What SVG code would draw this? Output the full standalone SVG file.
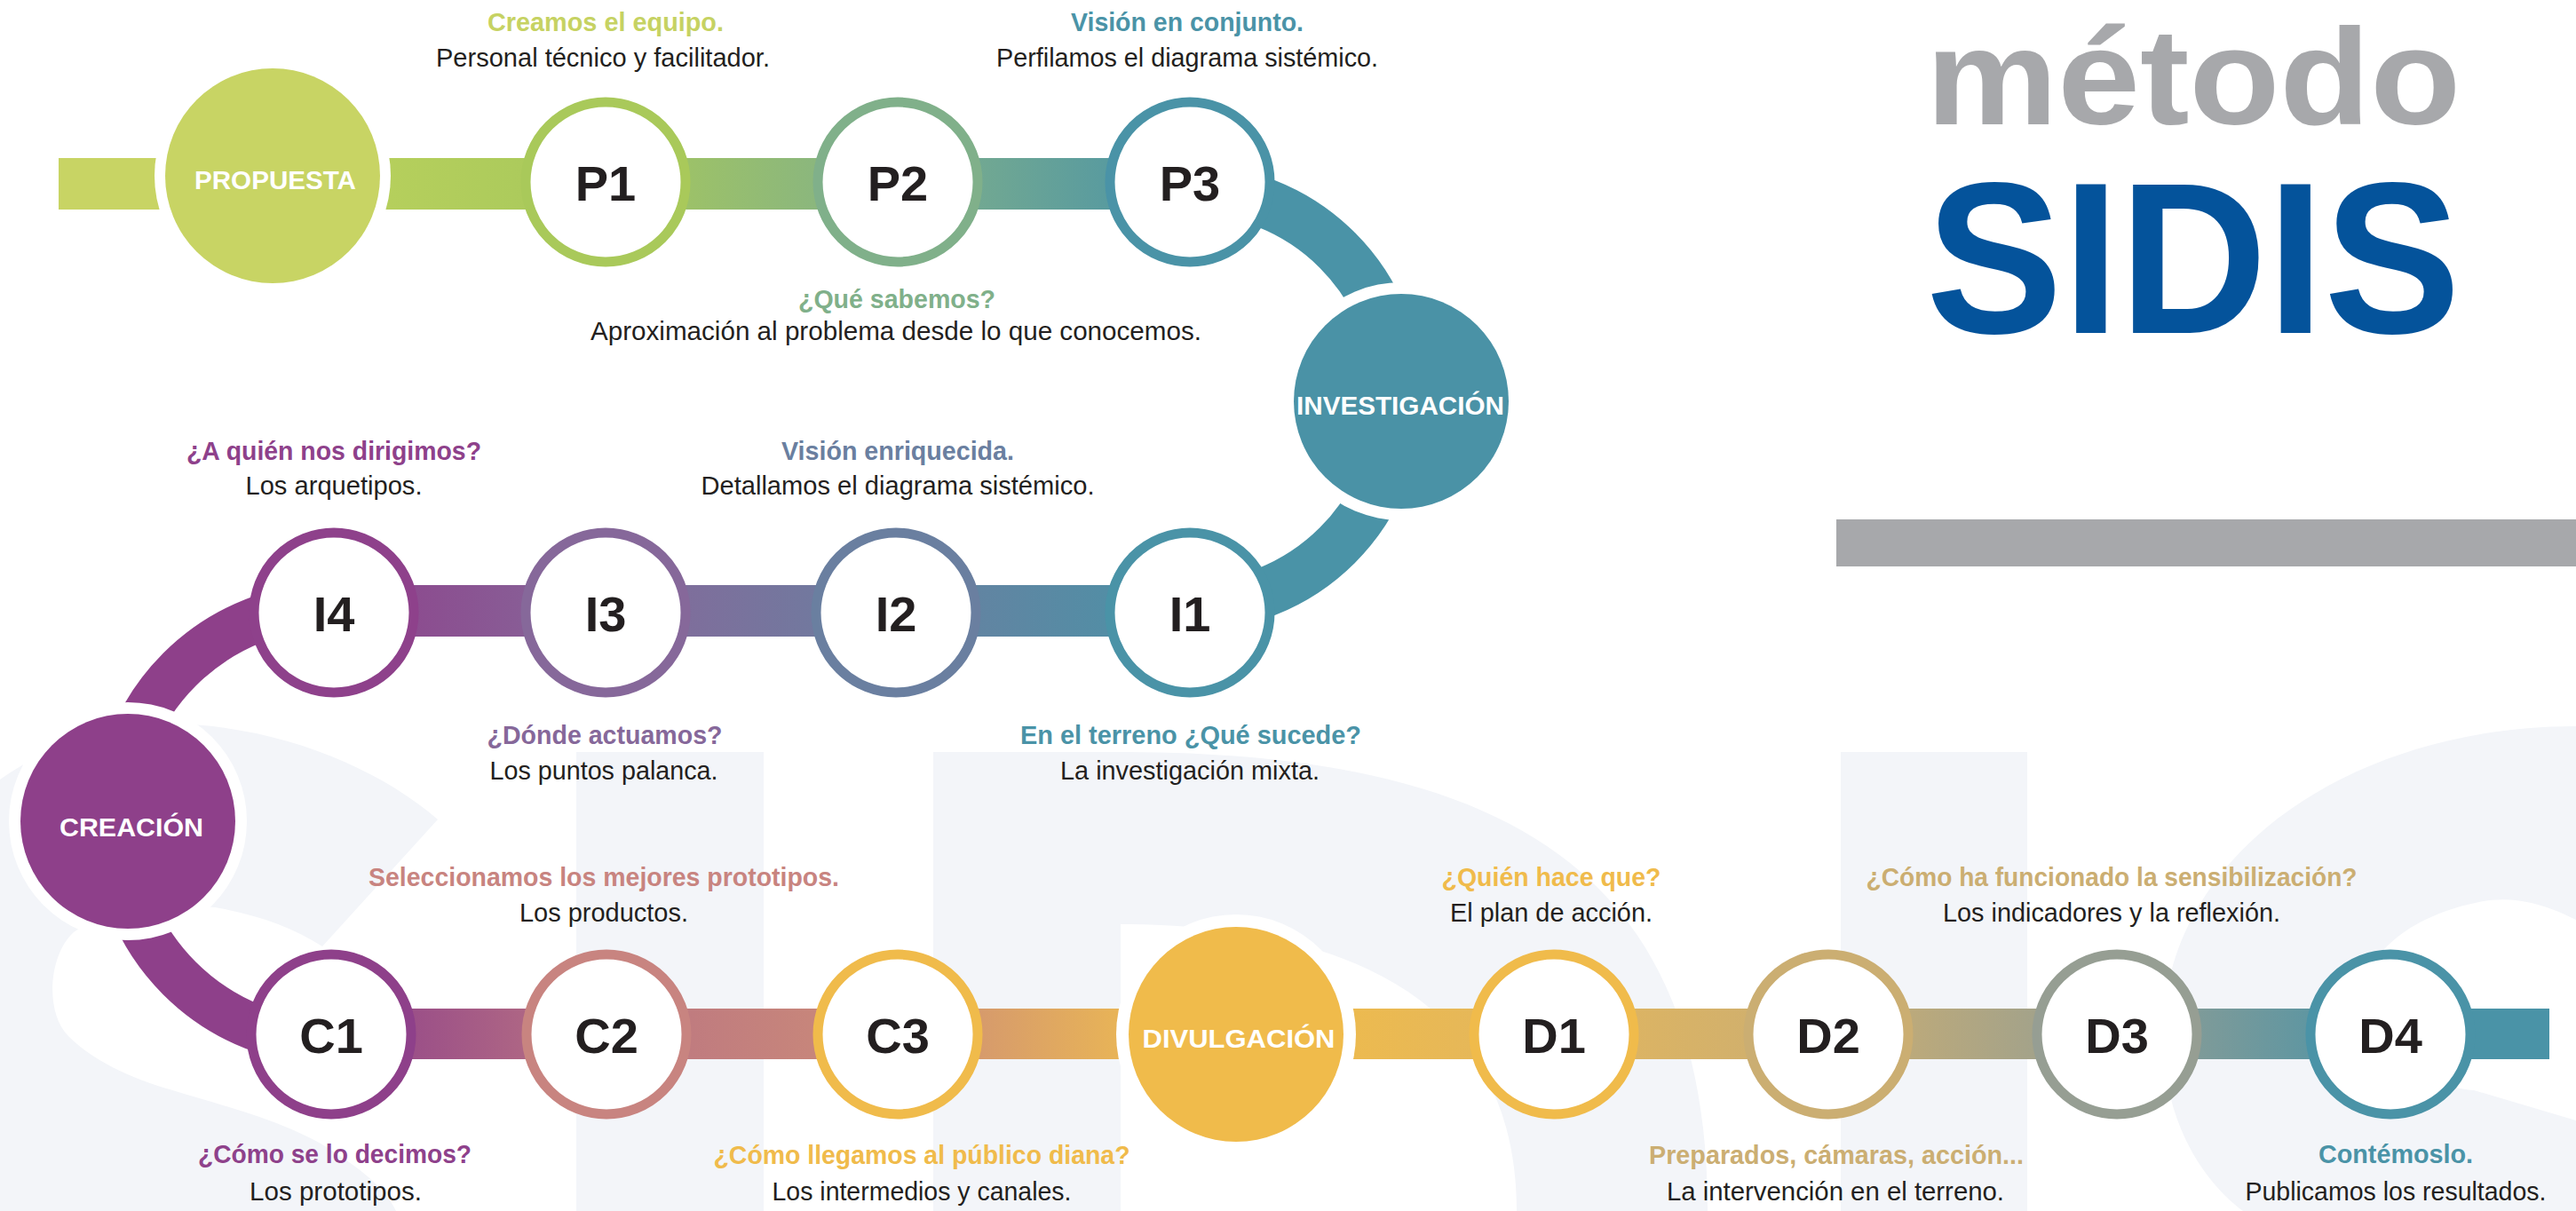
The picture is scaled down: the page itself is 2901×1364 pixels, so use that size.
<svg xmlns="http://www.w3.org/2000/svg" width="2901" height="1364" viewBox="0 0 2901 1364">
<defs>
<style>
.bg{fill:#f3f5f9}
.ring{fill:#fff;stroke-width:11}
.halo{fill:#fff}
.lbl{font-family:"Liberation Sans",Arial,sans-serif;font-weight:bold;font-size:56px;fill:#231f20;text-anchor:middle}
.big{font-family:"Liberation Sans",Arial,sans-serif;font-weight:bold;font-size:29px;fill:#fff;text-anchor:middle}
.ttl{font-family:"Liberation Sans",Arial,sans-serif;font-weight:bold;font-size:29px;text-anchor:middle}
.sub{font-family:"Liberation Sans",Arial,sans-serif;font-size:29px;fill:#231f20;text-anchor:middle}
</style>
<linearGradient id="gTop" gradientUnits="userSpaceOnUse" x1="66" y1="0" x2="1340" y2="0">
<stop offset="0" stop-color="#c8d464"/>
<stop offset="0.184" stop-color="#c8d464"/>
<stop offset="0.294" stop-color="#b5cf5c"/>
<stop offset="0.484" stop-color="#a7c85c"/>
<stop offset="0.742" stop-color="#80b08a"/>
<stop offset="1" stop-color="#4a93a7"/>
</linearGradient>
<linearGradient id="gMid" gradientUnits="userSpaceOnUse" x1="376" y1="0" x2="1340" y2="0">
<stop offset="0" stop-color="#8e418b"/>
<stop offset="0.317" stop-color="#86689a"/>
<stop offset="0.659" stop-color="#6a7fa0"/>
<stop offset="1" stop-color="#4a93a7"/>
</linearGradient>
<linearGradient id="gBot" gradientUnits="userSpaceOnUse" x1="373" y1="0" x2="2871" y2="0">
<stop offset="0" stop-color="#8e408a"/>
<stop offset="0.124" stop-color="#bb7582"/>
<stop offset="0.255" stop-color="#cc8c78"/>
<stop offset="0.359" stop-color="#e9b556"/>
<stop offset="0.408" stop-color="#f0bb4b"/>
<stop offset="0.462" stop-color="#ecba50"/>
<stop offset="0.551" stop-color="#e2b65e"/>
<stop offset="0.675" stop-color="#cbae72"/>
<stop offset="0.805" stop-color="#949e93"/>
<stop offset="0.928" stop-color="#4a93a7"/>
<stop offset="1" stop-color="#4a93a7"/>
</linearGradient>
</defs>
<rect width="2901" height="1364" fill="#fff"/>
<g id="background">
<path class="bg" d="M0,878 C40,850 100,820 170,815 C300,812 420,860 493,923 L363,1066 C330,1045 290,1030 242,1022 C180,1015 110,1030 83,1050 C55,1075 50,1140 77,1167 C110,1200 160,1218 191,1227 C260,1248 330,1265 380,1300 C410,1320 435,1340 446,1364 L0,1364 Z"/>
<rect class="bg" x="649" y="847" width="211" height="517"/>
<path class="bg" d="M1051,847 L1262,847 C1720,847 1923,1000 1923,1364 L1708,1364 C1708,1150 1550,1041 1262,1041 L1262,1364 L1051,1364 Z"/>
<rect class="bg" x="2073" y="847" width="210" height="517"/>
<path class="bg" d="M2901,818 C2650,818 2440,960 2436,1160 C2434,1260 2480,1330 2526,1364 L2901,1364 L2901,1262 L2786,1228 C2720,1222 2660,1180 2662,1120 C2665,1070 2720,1030 2792,1016 C2830,1008 2865,1018 2901,1036 Z"/>
</g>
<g id="title">
<text x="2470" y="140" textLength="602" lengthAdjust="spacingAndGlyphs" style="font-family:'Liberation Sans',Arial,sans-serif;font-weight:bold;font-size:154px;fill:#a7a8ab;text-anchor:middle">método</text>
<text x="2470" y="375" textLength="602" lengthAdjust="spacingAndGlyphs" style="font-family:'Liberation Sans',Arial,sans-serif;font-weight:bold;font-size:243px;fill:#04539b;text-anchor:middle">SIDIS</text>
<rect x="2068" y="585" width="833" height="53" fill="#a7a8ab"/>
</g>
<g id="connectors">
<rect x="66" y="178" width="1274" height="58" fill="url(#gTop)"/>
<path d="M1340,213 A235,235 0 0 1 1340,683" fill="none" stroke="#4a93a7" stroke-width="56"/>
<rect x="376" y="659" width="964" height="58" fill="url(#gMid)"/>
<path d="M376,682 A246,246 0 0 0 376,1174" fill="none" stroke="#8e408a" stroke-width="52"/>
<rect x="373" y="1136" width="2498" height="57" fill="url(#gBot)"/>
</g>
<g id="propuesta">
<circle class="halo" cx="307" cy="198" r="133"/>
<circle cx="307" cy="198" r="121" fill="#c8d464"/>
<text class="big" x="310" y="213" textLength="182" lengthAdjust="spacingAndGlyphs">PROPUESTA</text>
</g>
<g id="p1">
<circle class="ring" cx="682" cy="205" r="90" stroke="#a9c95a"/>
<text class="lbl" x="682" y="226">P1</text>
<text class="ttl" x="682" y="35" fill="#c6d262" textLength="266" lengthAdjust="spacingAndGlyphs">Creamos el equipo.</text>
<text class="sub" x="679" y="75" textLength="376" lengthAdjust="spacingAndGlyphs">Personal técnico y facilitador.</text>
</g>
<g id="p2">
<circle class="ring" cx="1011" cy="205" r="90" stroke="#80b08a"/>
<text class="lbl" x="1011" y="226">P2</text>
<text class="ttl" x="1010" y="347" fill="#80b08a" textLength="222" lengthAdjust="spacingAndGlyphs">¿Qué sabemos?</text>
<text class="sub" x="1009" y="383" textLength="688" lengthAdjust="spacingAndGlyphs">Aproximación al problema desde lo que conocemos.</text>
</g>
<g id="p3">
<circle class="ring" cx="1340" cy="205" r="90" stroke="#4a93a7"/>
<text class="lbl" x="1340" y="226">P3</text>
<text class="ttl" x="1337" y="35" fill="#4a93a7" textLength="262" lengthAdjust="spacingAndGlyphs">Visión en conjunto.</text>
<text class="sub" x="1337" y="75" textLength="430" lengthAdjust="spacingAndGlyphs">Perfilamos el diagrama sistémico.</text>
</g>
<g id="investigacion">
<circle class="halo" cx="1578" cy="452" r="134"/>
<circle cx="1578" cy="452" r="121" fill="#4a92a6"/>
<text class="big" x="1577" y="467" textLength="234" lengthAdjust="spacingAndGlyphs">INVESTIGACIÓN</text>
</g>
<g id="i1">
<circle class="ring" cx="1340" cy="690" r="90" stroke="#4a93a7"/>
<text class="lbl" x="1340" y="711">I1</text>
<text class="ttl" x="1341" y="838" fill="#4a93a7" textLength="384" lengthAdjust="spacingAndGlyphs">En el terreno ¿Qué sucede?</text>
<text class="sub" x="1340" y="878" textLength="292" lengthAdjust="spacingAndGlyphs">La investigación mixta.</text>
</g>
<g id="i2">
<circle class="ring" cx="1009" cy="690" r="90" stroke="#6a7fa0"/>
<text class="lbl" x="1009" y="711">I2</text>
<text class="ttl" x="1011" y="518" fill="#6a7fa0" textLength="262" lengthAdjust="spacingAndGlyphs">Visión enriquecida.</text>
<text class="sub" x="1011" y="557" textLength="443" lengthAdjust="spacingAndGlyphs">Detallamos el diagrama sistémico.</text>
</g>
<g id="i3">
<circle class="ring" cx="682" cy="690" r="90" stroke="#86689a"/>
<text class="lbl" x="682" y="711">I3</text>
<text class="ttl" x="681" y="838" fill="#86689a" textLength="265" lengthAdjust="spacingAndGlyphs">¿Dónde actuamos?</text>
<text class="sub" x="680" y="878" textLength="257" lengthAdjust="spacingAndGlyphs">Los puntos palanca.</text>
</g>
<g id="i4">
<circle class="ring" cx="376" cy="690" r="90" stroke="#8e418b"/>
<text class="lbl" x="376" y="711">I4</text>
<text class="ttl" x="376" y="518" fill="#8e418b" textLength="332" lengthAdjust="spacingAndGlyphs">¿A quién nos dirigimos?</text>
<text class="sub" x="376" y="557" textLength="199" lengthAdjust="spacingAndGlyphs">Los arquetipos.</text>
</g>
<g id="creacion">
<circle class="halo" cx="144" cy="925" r="134"/>
<circle cx="144" cy="925" r="121" fill="#8e408a"/>
<text class="big" x="148" y="942" textLength="162" lengthAdjust="spacingAndGlyphs">CREACIÓN</text>
</g>
<g id="c1">
<circle class="ring" cx="373" cy="1165" r="90" stroke="#8e408a"/>
<text class="lbl" x="373" y="1186">C1</text>
<text class="ttl" x="377" y="1310" fill="#8e418b" textLength="308" lengthAdjust="spacingAndGlyphs">¿Cómo se lo decimos?</text>
<text class="sub" x="378" y="1352" textLength="194" lengthAdjust="spacingAndGlyphs">Los prototipos.</text>
</g>
<g id="c2">
<circle class="ring" cx="683" cy="1165" r="90" stroke="#c88480"/>
<text class="lbl" x="683" y="1186">C2</text>
<text class="ttl" x="680" y="998" fill="#c88480" textLength="530" lengthAdjust="spacingAndGlyphs">Seleccionamos los mejores prototipos.</text>
<text class="sub" x="680" y="1038" textLength="190" lengthAdjust="spacingAndGlyphs">Los productos.</text>
</g>
<g id="c3">
<circle class="ring" cx="1011" cy="1165" r="90" stroke="#f0bb4b"/>
<text class="lbl" x="1011" y="1186">C3</text>
<text class="ttl" x="1038" y="1311" fill="#f0bb4b" textLength="469" lengthAdjust="spacingAndGlyphs">¿Cómo llegamos al público diana?</text>
<text class="sub" x="1038" y="1352" textLength="337" lengthAdjust="spacingAndGlyphs">Los intermedios y canales.</text>
</g>
<g id="divulgacion">
<circle class="halo" cx="1392" cy="1165" r="135"/>
<circle cx="1392" cy="1165" r="121" fill="#f0bb4b"/>
<text class="big" x="1395" y="1180" textLength="217" lengthAdjust="spacingAndGlyphs">DIVULGACIÓN</text>
</g>
<g id="d1">
<circle class="ring" cx="1750" cy="1165" r="90" stroke="#f0bb4b"/>
<text class="lbl" x="1750" y="1186">D1</text>
<text class="ttl" x="1747" y="998" fill="#f0bb4b" textLength="247" lengthAdjust="spacingAndGlyphs">¿Quién hace que?</text>
<text class="sub" x="1747" y="1038" textLength="228" lengthAdjust="spacingAndGlyphs">El plan de acción.</text>
</g>
<g id="d2">
<circle class="ring" cx="2059" cy="1165" r="90" stroke="#cbae72"/>
<text class="lbl" x="2059" y="1186">D2</text>
<text class="ttl" x="2068" y="1311" fill="#cbae72" textLength="422" lengthAdjust="spacingAndGlyphs">Preparados, cámaras, acción...</text>
<text class="sub" x="2067" y="1352" textLength="380" lengthAdjust="spacingAndGlyphs">La intervención en el terreno.</text>
</g>
<g id="d3">
<circle class="ring" cx="2384" cy="1165" r="90" stroke="#969e93"/>
<text class="lbl" x="2384" y="1186">D3</text>
<text class="ttl" x="2378" y="998" fill="#cbae72" textLength="553" lengthAdjust="spacingAndGlyphs">¿Cómo ha funcionado la sensibilización?</text>
<text class="sub" x="2378" y="1038" textLength="380" lengthAdjust="spacingAndGlyphs">Los indicadores y la reflexión.</text>
</g>
<g id="d4">
<circle class="ring" cx="2692" cy="1165" r="90" stroke="#4a93a7"/>
<text class="lbl" x="2692" y="1186">D4</text>
<text class="ttl" x="2698" y="1310" fill="#4a93a7" textLength="174" lengthAdjust="spacingAndGlyphs">Contémoslo.</text>
<text class="sub" x="2698" y="1352" textLength="339" lengthAdjust="spacingAndGlyphs">Publicamos los resultados.</text>
</g>
</svg>
